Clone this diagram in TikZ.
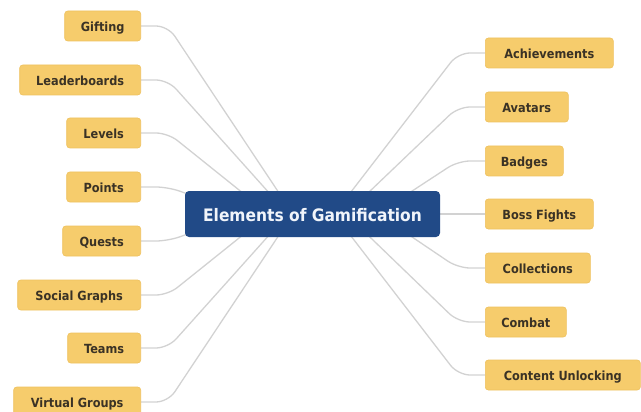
\documentclass[tikz,border=0pt]{standalone}
\usepackage{fontspec}
\setmainfont{DejaVu Sans Condensed}
\usetikzlibrary{backgrounds}
\definecolor{leaffill}{HTML}{F6CC6C}
\definecolor{leafline}{HTML}{EEC15E}
\definecolor{leaftext}{HTML}{3A3225}
\definecolor{hubfill}{HTML}{214A87}
\definecolor{hubtext}{HTML}{F1F5FB}
\definecolor{wire}{HTML}{D2D2D2}
\begin{document}
\begin{tikzpicture}[x=1pt,y=-1pt,
  leaf/.style={draw=leafline, fill=leaffill, rounded corners=3pt, line width=0.6pt,
    minimum height=30pt, inner sep=0pt, text=leaftext,
    text height=11.2pt, text depth=0pt,
    font=\fontsize{12.6}{12.6}\selectfont\bfseries},
  lleaf/.style={leaf, anchor=east},
  rleaf/.style={leaf, anchor=west},
  hub/.style={fill=hubfill, rounded corners=4pt, minimum width=255pt, minimum height=46pt,
    inner sep=0pt, text=hubtext, text height=14.5pt, text depth=0pt,
    font=\fontsize{17.2}{17.2}\selectfont\bfseries},
  wirepath/.style={draw=wire, line width=1.3pt, rounded corners=12pt}]
\useasboundingbox (0,0) rectangle (641,412);

% central topic
\node[hub] (hub) at (312.5,214) {Elements of Gamification};

% left branch
\node[lleaf, minimum width=76pt]  (gift)   at (141,26)  {Gifting};
\node[lleaf, minimum width=121pt] (lead)   at (141,80)  {Leaderboards};
\node[lleaf, minimum width=74pt]  (levels) at (141,133) {Levels};
\node[lleaf, minimum width=74pt]  (points) at (141,187) {Points};
\node[lleaf, minimum width=78pt]  (quests) at (141,241) {Quests};
\node[lleaf, minimum width=123pt] (social) at (141,295) {Social Graphs};
\node[lleaf, minimum width=73pt]  (teams)  at (141,348) {Teams};
\node[lleaf, minimum width=127pt] (virt)   at (141,402) {Virtual Groups};

% right branch
\node[rleaf, minimum width=128pt] (ach)    at (485,53)  {Achievements};
\node[rleaf, minimum width=83pt]  (avat)   at (485,107) {Avatars};
\node[rleaf, minimum width=78pt]  (badg)   at (485,161) {Badges};
\node[rleaf, minimum width=108pt] (boss)   at (485,214) {Boss Fights};
\node[rleaf, minimum width=105pt] (coll)   at (485,268) {Collections};
\node[rleaf, minimum width=81pt]  (comb)   at (485,322) {Combat};
\node[rleaf, minimum width=155pt] (cont)   at (485,375) {Content Unlocking};

% connectors, tucked behind the boxes
\begin{scope}[on background layer]
  \coordinate (lg) at (293,214);
  \coordinate (ll) at (288,214);
  \coordinate (lv) at (269,214);
  \coordinate (lp) at (230,209);
  \coordinate (lq) at (230,219);
  \coordinate (ra) at (334,214);
  \coordinate (rv) at (346,214);
  \coordinate (rb) at (377,214);
  \coordinate (rc) at (378,214);

  \path[wirepath] (gift.east)   -- ++(27,0) -- (lg);
  \path[wirepath] (lead.east)   -- ++(27,0) -- (ll);
  \path[wirepath] (levels.east) -- ++(27,0) -- (lv);
  \path[wirepath] (points.east) -- ++(27,0) -- (lp);
  \path[wirepath] (quests.east) -- ++(27,0) -- (lq);
  \path[wirepath] (social.east) -- ++(27,0) -- (lv);
  \path[wirepath] (teams.east)  -- ++(27,0) -- (ll);
  \path[wirepath] (virt.east)   -- ++(27,0) -- (lg);

  \path[wirepath] (ach.west)  -- ++(-27,0) -- (ra);
  \path[wirepath] (avat.west) -- ++(-27,0) -- (rv);
  \path[wirepath] (badg.west) -- ++(-27,0) -- (rb);
  \path[wirepath] (boss.west) -- (hub.east);
  \path[wirepath] (coll.west) -- ++(-27,0) -- (rc);
  \path[wirepath] (comb.west) -- ++(-27,0) -- (rv);
  \path[wirepath] (cont.west) -- ++(-27,0) -- (ra);
\end{scope}
\end{tikzpicture}
\end{document}
